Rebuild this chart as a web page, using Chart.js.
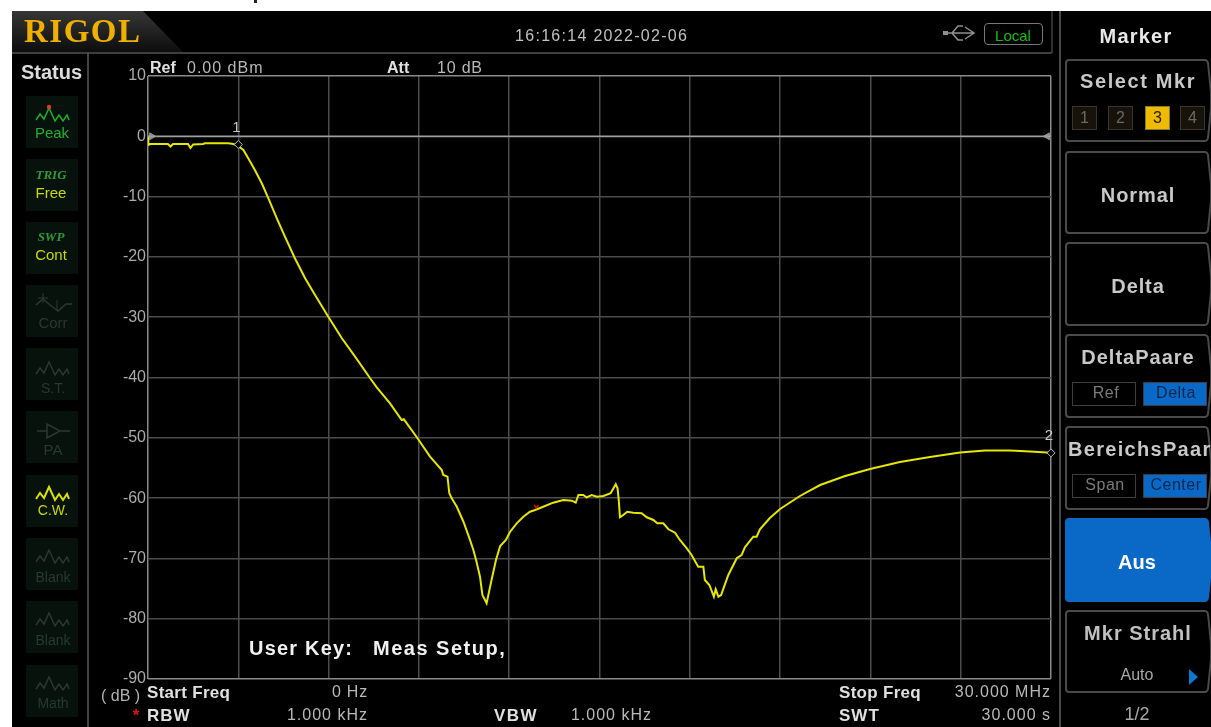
<!DOCTYPE html>
<html><head><meta charset="utf-8">
<script src="https://cdn.jsdelivr.net/npm/chart.js@4"></script>
<style>
html,body{margin:0;padding:0;background:#fff;width:1211px;height:727px;overflow:hidden}
#scr{position:absolute;left:12px;top:11px;width:1199px;height:716px;background:#000}
canvas{position:absolute;left:0;top:0}
.t{position:absolute;white-space:nowrap;font-family:"Liberation Sans",Arial,sans-serif;line-height:1;z-index:5}
.b{position:absolute;z-index:1;box-sizing:border-box}
svg{position:absolute;left:0;top:0;z-index:2}
</style></head><body>
<div id="scr"></div>
<div class="b" style="left:254px;top:0;width:3px;height:3px;background:#222"></div>
<div class="b" style="left:12px;top:11px;width:172px;height:42px;background:linear-gradient(#363636,#0c0c0c);clip-path:polygon(0 0,131px 0,172px 42px,0 42px)"></div>
<div style="position:absolute;left:0;top:0;width:1211px;height:727px;z-index:3"><canvas id="c" width="1211" height="727" style="width:1211px;height:727px"></canvas></div>
<svg id="ui" width="1211" height="727" viewBox="0 0 1211 727"></svg>
<script>
const frequencyMHz=[0,0.01,0.07,0.66,0.75,0.83,1.33,1.41,1.5,1.83,1.89,2.66,2.79,2.94,3.17,3.33,3.55,3.78,4,4.28,4.55,4.88,5.22,5.55,5.99,6.44,6.88,7.38,7.6,8.04,8.43,8.5,8.92,9.37,9.76,9.81,9.95,10.01,10.09,10.26,10.48,10.68,10.81,10.9,11.03,11.11,11.25,11.39,11.56,11.7,11.89,12.03,12.25,12.47,12.69,12.86,13.13,13.46,13.8,14.08,14.21,14.3,14.46,14.57,14.74,14.91,15.13,15.37,15.54,15.6,15.64,15.68,15.79,15.92,16.12,16.4,16.57,16.79,16.92,17.12,17.29,17.51,17.67,17.9,18.06,18.28,18.45,18.5,18.65,18.8,18.86,18.95,19.04,19.14,19.28,19.56,19.72,19.83,20.11,20.22,20.33,20.66,21,21.66,22.33,23.16,23.99,24.98,25.98,26.98,27.81,28.64,29.3,30];
const traceDb=[-0.1,-1.44,-1.28,-1.28,-1.69,-1.28,-1.28,-1.94,-1.36,-1.28,-1.16,-1.16,-1.24,-1.44,-2.27,-3.65,-5.59,-7.79,-10.28,-13.6,-16.65,-20.23,-23.55,-26.32,-29.92,-33.5,-36.55,-40.13,-41.63,-44.28,-47.05,-46.93,-49.82,-53.13,-55.34,-56.17,-56.45,-59.2,-60.03,-61.43,-63.92,-66.67,-68.61,-70.27,-73.04,-76.07,-77.45,-74.13,-70.27,-67.94,-66.95,-65.57,-64.18,-63.08,-62.26,-61.97,-61.43,-60.76,-60.32,-60.43,-60.76,-59.49,-59.49,-59.87,-59.49,-59.77,-59.65,-59.2,-57.71,-58.38,-60.32,-63.18,-62.8,-62.26,-62.42,-62.52,-63.18,-63.63,-64.18,-64.18,-65.17,-65.74,-66.95,-68.33,-69.44,-71.38,-71.38,-73.58,-74.41,-76.35,-75.12,-76.35,-76.07,-74.69,-72.75,-69.98,-69.44,-68.16,-66.4,-66.4,-65.18,-63.3,-61.81,-59.65,-57.83,-56.34,-55.18,-54.01,-53.18,-52.44,-52.11,-52.11,-52.27,-52.5];
const refLineX=[0,30];
const refLineDb=[0,0];
const refArrowX=[0.12,29.88];
const refArrowDb=[0,0];
const markerX=[3,30];
const markerDb=[-1.36,-52.5];
const markerNames=["1","2"];
const redMarkX=[12.83,12.9,12.98];
const redMarkDb=[-61.1,-61.6,-61.2];
const xStartMHz=0, xStopMHz=30, xStepMHz=3;
const yTopDb=10, yBottomDb=-90, yStepDb=10;

const toXY=(xs,ys)=>xs.map((x,i)=>({x,y:ys[i]}));
const markerLabels={id:'markerLabels',afterDatasetsDraw(ch){
  const {ctx,scales:{x,y}}=ch;ctx.save();
  ctx.font='15px "Liberation Sans"';ctx.fillStyle='#c8c8c8';ctx.textAlign='center';ctx.textBaseline='middle';
  markerNames.forEach((n,i)=>ctx.fillText(n,x.getPixelForValue(markerX[i])-2,y.getPixelForValue(markerDb[i])-17));
  ctx.restore();
}};
new Chart(document.getElementById('c'),{
  type:'scatter',
  plugins:[markerLabels],
  data:{datasets:[
    {label:'Marker',data:toXY(markerX,markerDb),showLine:false,pointStyle:'rectRot',radius:4,pointBackgroundColor:'#000',pointBorderColor:'#b8b8b8',pointBorderWidth:1,clip:false,order:0},
    {label:'Trace',data:toXY(frequencyMHz,traceDb),showLine:true,borderColor:'#e6e600',borderWidth:2,pointRadius:0,tension:0,order:1},
    {label:'Peak flag',data:toXY(redMarkX,redMarkDb),showLine:true,borderColor:'#d01010',borderWidth:1.5,pointRadius:0,tension:0,order:0},
    {label:'Ref level',data:toXY(refLineX,refLineDb),showLine:true,borderColor:'#a0a0a0',borderWidth:1.5,pointRadius:0,order:2},
    {label:'Ref arrows',data:toXY(refArrowX,refArrowDb),showLine:false,pointStyle:'triangle',radius:4,rotation:[90,270],pointBackgroundColor:'#909090',pointBorderColor:'#909090',clip:false,order:2}
  ]},
  options:{
    responsive:false,animation:false,
    layout:{padding:{left:12,right:160,top:76,bottom:48}},
    plugins:{legend:{display:false},tooltip:{enabled:false}},
    scales:{
      x:{type:'linear',min:xStartMHz,max:xStopMHz,
        ticks:{display:false,stepSize:xStepMHz},
        border:{display:false},
        grid:{drawTicks:false,lineWidth:1.5,color:c=>(c.tick.value===xStartMHz||c.tick.value===xStopMHz)?'#8a8a8a':'#4c4c4c'}},
      y:{type:'linear',min:yBottomDb,max:yTopDb,
        afterFit(s){s.width=136},
        ticks:{stepSize:yStepDb,color:'#aaaaaa',padding:2,font:{family:'"Liberation Sans"',size:16}},
        border:{display:false},
        grid:{drawTicks:false,lineWidth:1.5,color:c=>(c.tick.value===yTopDb||c.tick.value===yBottomDb)?'#8a8a8a':'#4c4c4c'}}
    }
  }
});

/* instrument chrome */
function T(s,x,y,o={}){
  const d=document.createElement('div');d.className='t';d.textContent=s;
  const a=o.a||'l';
  d.style.top=y+'px';
  d.style.transform='translate('+(a==='c'?'-50%':a==='r'?'-100%':'0')+',-50%)';
  d.style.left=x+'px';
  d.style.fontSize=(o.s||16)+'px';
  d.style.color=o.c||'#b8b8b8';
  if(o.b)d.style.fontWeight='bold';
  if(o.i)d.style.fontStyle='italic';
  if(o.f)d.style.fontFamily=o.f;
  if(o.ls)d.style.letterSpacing=o.ls+'px';
  document.body.appendChild(d);
}
function B(x,y,w,h,bg,bd,r){
  const d=document.createElement('div');d.className='b';
  d.style.cssText+=`left:${x}px;top:${y}px;width:${w}px;height:${h}px;background:${bg||'transparent'};`+(bd?`border:${bd};`:'')+(r?`border-radius:${r}px;`:'')+`z-index:${x>900?4:1};`;
  document.body.appendChild(d);
}
const ui=document.getElementById('ui');let svg='';
const L=(x1,y1,x2,y2,c,w)=>{svg+=`<line x1="${x1}" y1="${y1}" x2="${x2}" y2="${y2}" stroke="${c}" stroke-width="${w||1.5}"/>`};
L(12,53,1052,53,'#3e3e3e',2);L(88,53,88,727,'#5a5a5a',1.5);L(1060,11,1060,727,'#4a4a4a',2);L(1052,11,1052,53,'#3e3e3e',1.5);

/* soft keys */
const keys=[[60,141,0],[152,233,0],[243,325,0],[335,417,0],[427,509,0],[519,601,1],[611,692,0]];
keys.forEach(([a,b,f])=>{const m=(a+b)/2;
  svg+=`<path d="M1069,${a} L1205,${a} Q1207,${a} 1208,${a+3} L1211,${m-8} L1211,${m+8} L1208,${b-3} Q1207,${b} 1205,${b} L1069,${b} Q1066,${b} 1066,${b-3} L1066,${a+3} Q1066,${a} 1069,${a} Z" fill="${f?'#0a68c6':'#000'}" stroke="${f?'#0a68c6':'#4a4a4a'}" stroke-width="2"/>`;
});
/* status icons */
const iconY=[96,159,222,285,348,411,475,538,601,665];
iconY.forEach(y=>B(26,y,52,52,'#08120c'));
const wave=(y,c,w)=>`<polyline transform="translate(36,${y})" points="0,14 4,8 8,13 13,2 19,15 23,9 27,15 31,9 33,14" fill="none" stroke="${c}" stroke-width="${w||1.5}"/>`;
svg+=wave(106,'#1fae2e');svg+=`<circle cx="49" cy="107" r="2.2" fill="#e03a20"/>`;
svg+=`<polyline points="36,305 43,299 50,305 58,311 66,304 72,304" fill="none" stroke="#283a30" stroke-width="1.5"/>`;
svg+=`<path d="M43,293v10M38,298h10M57,300v10" stroke="#283a30" stroke-width="1"/>`;
svg+=wave(360,'#283a30');
svg+=`<path d="M37,431h10M60,431h10M47,424v14l13,-7z" fill="none" stroke="#283a30" stroke-width="1.5"/>`;
svg+=wave(485,'#d8e000',2);
svg+=wave(548,'#283a30');svg+=wave(611,'#283a30');svg+=wave(675,'#283a30');
/* USB */
svg+=`<path d="M944,33H974M965,27l9,6l-9,6M952,33l6,-7h5M952,33l6,7h5" fill="none" stroke="#909090" stroke-width="1.5"/><rect x="943" y="31" width="5" height="4" fill="#909090"/>`;
/* blue triangle */
svg+=`<path d="M1189,669L1198,677L1189,685Z" fill="#0a78d0"/>`;
ui.innerHTML=svg;

T('RIGOL',24,31,{s:33,b:1,c:'#f0b000',f:'"Liberation Serif"',ls:1.5});
T('16:16:14 2022-02-06',515,36,{s:16,ls:1.3,c:'#c0c0c0'});
B(984,23,59,22,'transparent','1.5px solid #777',4);
T('Local',1013,35,{s:15,a:'c',c:'#10c010'});
T('Status',21,72,{s:20,b:1,c:'#dcdcdc'});

T('Peak',52,132,{s:15,a:'c',c:'#22b030'});
T('TRIG',51,174,{s:13,b:1,i:1,a:'c',c:'#2f9a3a',f:'"Liberation Serif"'});
T('Free',51,192,{s:15,a:'c',c:'#c8d800'});
T('SWP',51,236,{s:13,b:1,i:1,a:'c',c:'#2f9a3a',f:'"Liberation Serif"'});
T('Cont',51,254,{s:15,a:'c',c:'#c8d800'});
T('Corr',53,322,{s:15,a:'c',c:'#263a2e'});
T('S.T.',53,388,{s:14,a:'c',c:'#263a2e'});
T('PA',53,449,{s:15,a:'c',c:'#263a2e'});
T('C.W.',53,510,{s:14,a:'c',c:'#c8d800'});
T('Blank',53,577,{s:14,a:'c',c:'#263a2e'});
T('Blank',53,640,{s:14,a:'c',c:'#263a2e'});
T('Math',53,703,{s:14,a:'c',c:'#263a2e'});

T('Ref',150,68,{s:16,b:1,c:'#e0e0e0'});
T('0.00 dBm',187,68,{s:16,ls:1});
T('Att',387,68,{s:16,b:1,c:'#e0e0e0'});
T('10 dB',437,68,{s:16,ls:0.8});
T('User Key:',249,648,{s:20,b:1,c:'#f0f0f0',ls:1.2});
T('Meas Setup,',373,648,{s:20,b:1,c:'#f0f0f0',ls:1.5});

T('( dB )',101,696,{s:16,c:'#b0b0b0'});
T('*',136,715,{s:17,b:1,a:'c',c:'#e01010'});
T('Start Freq',147,692,{s:17,b:1,c:'#e0e0e0',ls:0.3});
T('0 Hz',368,692,{s:16,a:'r',ls:0.8});
T('RBW',147,715,{s:17,b:1,c:'#e0e0e0',ls:1});
T('1.000 kHz',368,715,{s:16,a:'r',ls:1});
T('VBW',494,715,{s:17,b:1,c:'#e0e0e0',ls:1.5});
T('1.000 kHz',652,715,{s:16,a:'r',ls:1});
T('Stop Freq',839,692,{s:17,b:1,c:'#e0e0e0',ls:0.3});
T('30.000 MHz',1051,692,{s:16,a:'r',ls:1});
T('SWT',839,715,{s:17,b:1,c:'#e0e0e0',ls:1});
T('30.000 s',1051,715,{s:16,a:'r',ls:1});

T('Marker',1136,36,{s:20,b:1,a:'c',c:'#e8e8e8',ls:1.2});
T('Select Mkr',1138,81,{s:20,b:1,a:'c',c:'#c8c8c8',ls:1.6});
[[1072,'1'],[1108,'2'],[1145,'3'],[1180,'4']].forEach(([x,n],i)=>{
  const on=i===2;
  B(x,106,25,24,on?'#eebb00':'#17130a',on?'1px solid #8a7a30':'1px solid #38352a');
  T(n,x+12.5,118,{s:16,a:'c',c:on?'#2a2000':'#6a6a60'});
});
T('Normal',1138,195,{s:20,b:1,a:'c',c:'#c8c8c8',ls:0.9});
T('Delta',1138,286,{s:20,b:1,a:'c',c:'#c8c8c8',ls:0.9});
T('DeltaPaare',1138,357,{s:20,b:1,a:'c',c:'#c8c8c8',ls:1});
B(1072,382,64,24,'#000','1px solid #3c3c3c');
T('Ref',1106,393,{s:16,a:'c',c:'#7a7a7a',ls:0.5});
B(1143,382,64,24,'#0a68c6','1px solid #3c3c3c');
T('Delta',1176,393,{s:16,a:'c',c:'#03284e',ls:0.5});
T('BereichsPaar',1068,449,{s:20,b:1,c:'#c8c8c8',ls:1.3});
B(1072,474,64,24,'#000','1px solid #3c3c3c');
T('Span',1105,485,{s:16,a:'c',c:'#7a7a7a',ls:0.5});
B(1143,474,64,24,'#0a68c6','1px solid #3c3c3c');
T('Center',1176,485,{s:16,a:'c',c:'#03284e',ls:0.5});
T('Aus',1137,562,{s:20,b:1,a:'c',c:'#ffffff'});
T('Mkr Strahl',1138,633,{s:20,b:1,a:'c',c:'#c0c0c0',ls:1});
T('Auto',1137,675,{s:16,a:'c',c:'#a8a8a8'});
T('1/2',1137,714,{s:18,a:'c',c:'#a8a8a8'});
</script>
</body></html>
